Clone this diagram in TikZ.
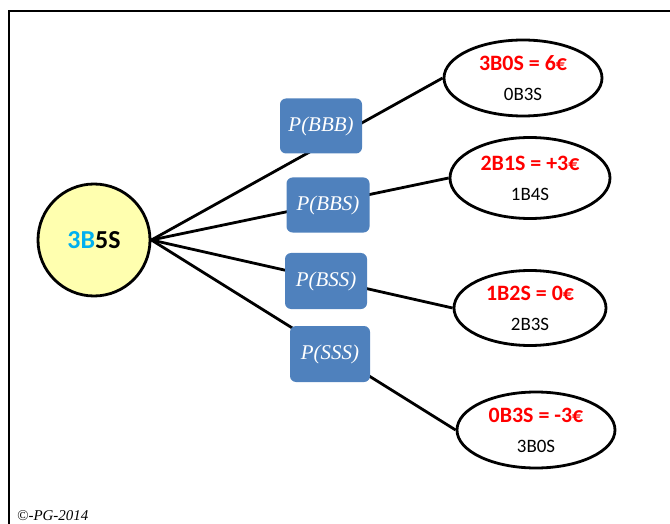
\documentclass[tikz,border=0pt]{standalone}
\usepackage{fontspec}
\setmainfont{Carlito}
\newfontfamily\boxfont{Liberation Serif}
\usetikzlibrary{shapes.geometric}
\definecolor{boxblue}{RGB}{79,129,189}
\definecolor{circyellow}{RGB}{255,255,175}
\definecolor{cyanB}{RGB}{0,176,240}
\definecolor{outred}{RGB}{255,0,0}
\newcommand{\restext}[1]{{\color{outred}\bfseries\fontsize{22}{30}\selectfont #1}}
\begin{document}
\begin{tikzpicture}[x=1bp,y=-1bp,
  root/.style={circle,draw=black,line width=2.8bp,fill=circyellow,minimum size=112bp,inner sep=0pt,
    font=\fontsize{26}{30}\selectfont\bfseries},
  outcome/.style={ellipse,draw=black,line width=2.8bp,fill=white,inner sep=0pt,align=center,
    font=\fontsize{19}{30}\selectfont},
  probbox/.style={rectangle,rounded corners=6bp,fill=boxblue,text=white,inner sep=0pt,
    minimum width=82bp,minimum height=55bp,font=\boxfont\itshape\fontsize{21}{24}\selectfont},
  branch/.style={line width=2.8bp,draw=black}
]
\useasboundingbox (0,0) rectangle (670,524);
\draw[line width=2bp] (9,530) -- (9,11) -- (672,11);

\node[root] (C) at (94,240) {\textcolor{cyanB}{3B}5S};

\node[outcome,minimum width=158bp,minimum height=76bp] (e1) at (523,78)
  {\restext{3B0S = 6€}\\0B3S};
\node[outcome,minimum width=160bp,minimum height=81bp] (e2) at (530,178)
  {\restext{2B1S = +3€}\\1B4S};
\node[outcome,minimum width=152bp,minimum height=75bp] (e3) at (530,308)
  {\restext{1B2S = 0€}\\2B3S};
\node[outcome,minimum width=158bp,minimum height=76bp] (e4) at (536,430)
  {\restext{0B3S = -3€}\\3B0S};

\draw[branch] (C.east) -- (e1.west);
\draw[branch] (C.east) -- (e2.west);
\draw[branch] (C.east) -- (e3.west);
\draw[branch] (C.east) -- (e4.west);

\node[probbox] (b1) at (321,126) {P(BBB)};
\node[probbox,minimum width=83bp] (b2) at (328,205) {P(BBS)};
\node[probbox,minimum height=56bp] (b3) at (326,281) {P(BSS)};
\node[probbox,minimum width=80bp,minimum height=56bp] (b4) at (330,354) {P(SSS)};

\node[anchor=base west,font=\boxfont\itshape\fontsize{15}{18}\selectfont,inner sep=0pt] (copy) at (17,520) {©-PG-2014};
\end{tikzpicture}
\end{document}
